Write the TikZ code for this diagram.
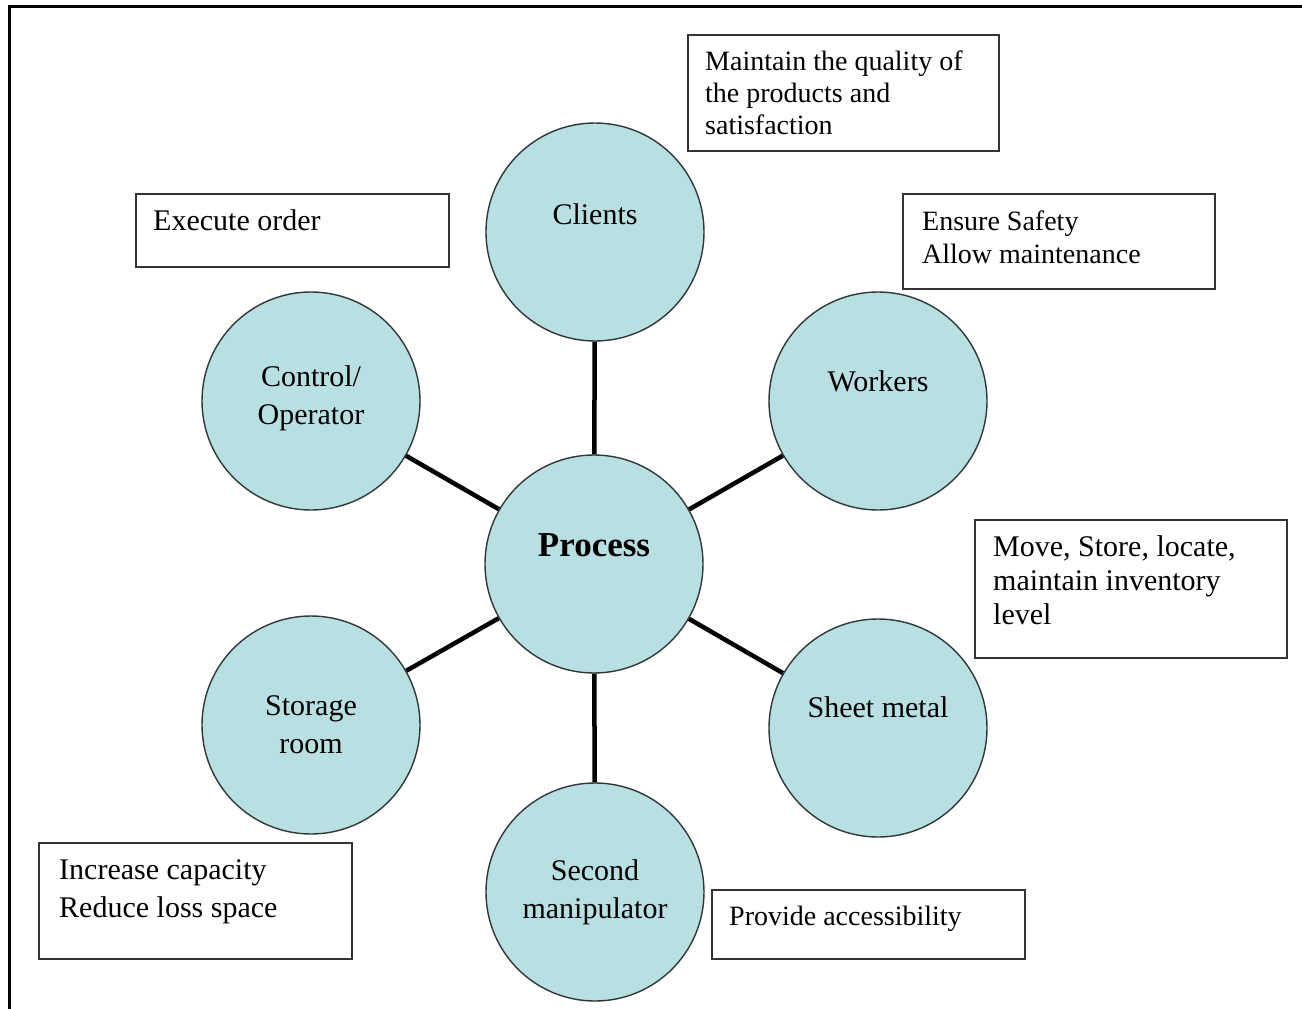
\documentclass[tikz,border=0pt]{standalone}
\usepackage{fontspec}
\setmainfont{Liberation Serif}
\definecolor{cfill}{HTML}{B8DFE2}
\definecolor{cline}{HTML}{303838}
\definecolor{bline}{HTML}{333333}
\begin{document}
\begin{tikzpicture}[x=1pt,y=-1pt,
  circ/.style={circle, draw=cline, line width=1.4pt, fill=cfill, minimum size=218pt, inner sep=0pt},
  ctext/.style={align=center, inner sep=0pt, font=\fontsize{30}{38}\selectfont},
  ptext/.style={inner sep=0pt, font=\fontsize{35}{40}\selectfont\bfseries},
  conn/.style={line width=4.5pt, black},
  boxn/.style={draw=bline, line width=2pt, inner sep=0pt, anchor=north west},
  btext/.style={align=left, inner sep=0pt, anchor=north west},
  frame/.style={line width=3pt, black}
]
\useasboundingbox (0,0) rectangle (1302,1009);
% frame
\coordinate (fA) at (9,1012);
\coordinate (fB) at (9,6);
\coordinate (fC) at (1305,6);
\draw[frame] (fA) -- (fB) -- (fC);

% circles
\node[circ] (proc) at (594,564) {};
\node[circ] (cli)  at (595,232) {};
\node[circ] (wrk)  at (878,401) {};
\node[circ] (shm)  at (878,728) {};
\node[circ] (sec)  at (595,892) {};
\node[circ] (sto)  at (311,725) {};
\node[circ] (ctl)  at (311,401) {};

% connectors
\draw[conn] (proc) -- (cli);
\draw[conn] (proc) -- (wrk);
\draw[conn] (proc) -- (shm);
\draw[conn] (proc) -- (sec);
\draw[conn] (proc) -- (sto);
\draw[conn] (proc) -- (ctl);

% circle texts
\node[ptext] (tproc) at ([yshift=19pt]proc.center) {Process};
\node[ctext] (tcli) at ([yshift=18pt]cli.center) {Clients};
\node[ctext] (twrk) at ([yshift=20pt]wrk.center) {Workers};
\node[ctext] (tshm) at ([yshift=21pt]shm.center) {Sheet metal};
\node[ctext] (tsec) at (sec.center) {Second\\manipulator};
\node[ctext] (tsto) at (sto.center) {Storage\\room};
\node[ctext] (tctl) at ([yshift=3pt]ctl.center) {Control/\\Operator};

% boxes
\node[boxn, minimum width=311pt, minimum height=116pt] (bq) at (687,34) {};
\node[btext, font=\fontsize{28}{32}\selectfont] (tq) at ([shift={(18,17)}]bq.north west) {Maintain the quality of\\the products and\\satisfaction};

\node[boxn, minimum width=313pt, minimum height=73pt] (be) at (135,193) {};
\node[btext, font=\fontsize{30}{36}\selectfont] (te) at ([shift={(18,16)}]be.north west) {Execute order};

\node[boxn, minimum width=312pt, minimum height=95pt] (bs) at (902,193) {};
\node[btext, font=\fontsize{28}{33}\selectfont] (ts) at ([shift={(20,18)}]bs.north west) {Ensure Safety\\Allow maintenance};

\node[boxn, minimum width=312pt, minimum height=138pt] (bm) at (974,519) {};
\node[btext, font=\fontsize{30}{34}\selectfont] (tm) at ([shift={(19,16)}]bm.north west) {Move, Store, locate,\\maintain inventory\\level};

\node[boxn, minimum width=313pt, minimum height=116pt] (bi) at (38,842) {};
\node[btext, font=\fontsize{30}{38}\selectfont] (ti) at ([shift={(21,17)}]bi.north west) {Increase capacity\\Reduce loss space};

\node[boxn, minimum width=313pt, minimum height=69pt] (bp) at (711,889) {};
\node[btext, font=\fontsize{28}{33}\selectfont] (tp) at ([shift={(18,17)}]bp.north west) {Provide accessibility};
\end{tikzpicture}
\end{document}
